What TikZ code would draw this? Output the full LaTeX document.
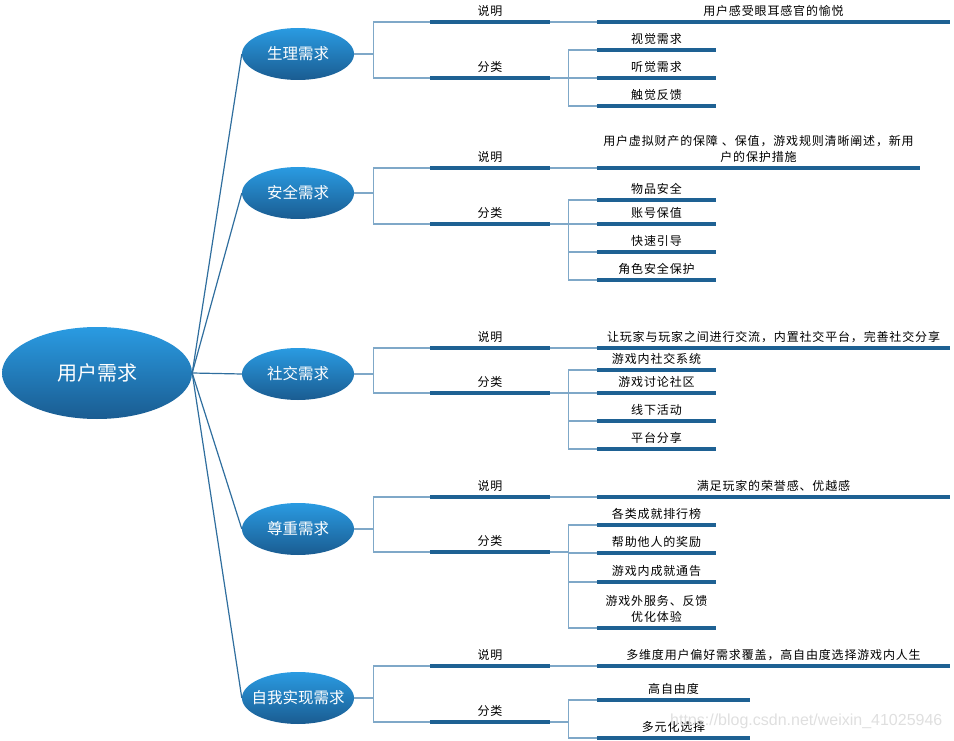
\documentclass[tikz,border=0pt]{standalone}
\usepackage{fontspec}
\usepackage{xcolor}
\usepackage{tikz}
\usetikzlibrary{shapes.geometric}
\newfontfamily\cjk{Noto Sans CJK SC}
\newfontfamily\cjkwide[LetterSpace=7]{Noto Sans CJK SC}
\setsansfont{Liberation Sans}
\definecolor{topblue}{HTML}{2A9BE2}
\definecolor{botblue}{HTML}{1A5C91}
\definecolor{barblue}{HTML}{1E6193}
\definecolor{linkblue}{HTML}{7FA8C8}
\definecolor{spokeblue}{HTML}{2F6E9E}
\def\headx{490}
\def\leafx{656.5}
\def\notex{773.5}

\begin{document}
\begin{tikzpicture}[x=1pt, y=-1pt,
    root/.style={ellipse, inner sep=0, minimum width=190, minimum height=92,
      top color=topblue, bottom color=botblue, draw=none, text=white,
      font=\cjk\fontsize{20}{24}\selectfont},
    need/.style={ellipse, inner sep=0, minimum width=112, minimum height=52,
      top color=topblue, bottom color=botblue, draw=none, text=white,
      font=\cjk\fontsize{15.5}{18}\selectfont},
    bar/.style={draw=barblue, line width=3.5pt},
    lbl/.style={anchor=south, inner xsep=0, inner ysep=5pt, align=center,
      text=black, font=\cjkwide\fontsize{12}{16}\selectfont,
      append after command={(\tikzlastnode.south west) edge[bar] (\tikzlastnode.south east)}},
    headbox/.style={lbl, minimum width=120},
    leafbox/.style={lbl, minimum width=119},
    notebox/.style={lbl, minimum width=353},
    link/.style={draw=linkblue, line width=1.4pt},
    spoke/.style={draw=spokeblue, line width=1.2pt}]
  \useasboundingbox (0,0) rectangle (954,741);

  \node[root] (user) at (97,373) {用户需求};
  \node[need] (n1) at (298,54) {生理需求};
  \node[need] (n2) at (298,193) {安全需求};
  \node[need] (n3) at (298,374) {社交需求};
  \node[need] (n4) at (298,529) {尊重需求};
  \node[need, inner xsep=-7pt] (n5) at (298,698) {自我实现需求};

  % 说明 / 分类
  \node[headbox] (s1) at (\headx,22) {说明};
  \node[headbox] (c1) at (\headx,78) {分类};
  \node[headbox] (s2) at (\headx,168) {说明};
  \node[headbox] (c2) at (\headx,224) {分类};
  \node[headbox] (s3) at (\headx,348) {说明};
  \node[headbox] (c3) at (\headx,393) {分类};
  \node[headbox] (s4) at (\headx,497) {说明};
  \node[headbox] (c4) at (\headx,552) {分类};
  \node[headbox] (s5) at (\headx,666) {说明};
  \node[headbox] (c5) at (\headx,722) {分类};

  \node[notebox] (d1) at (\notex,22) {用户感受眼耳感官的愉悦};
  \node[notebox, minimum width=323, text width=323] (d2) at (758.5,168)
    {用户虚拟财产的保障 、保值，游戏规则清晰阐述，新用\\户的保护措施};
  \node[notebox] (d3) at (\notex,348) {让玩家与玩家之间进行交流，内置社交平台，完善社交分享};
  \node[notebox] (d4) at (\notex,497) {满足玩家的荣誉感、优越感};
  \node[notebox] (d5) at (\notex,666) {多维度用户偏好需求覆盖，高自由度选择游戏内人生};

  \node[leafbox] (l11) at (\leafx,50) {视觉需求};
  \node[leafbox] (l12) at (\leafx,78) {听觉需求};
  \node[leafbox] (l13) at (\leafx,106) {触觉反馈};
  \node[leafbox] (l21) at (\leafx,200) {物品安全};
  \node[leafbox] (l22) at (\leafx,224) {账号保值};
  \node[leafbox] (l23) at (\leafx,252) {快速引导};
  \node[leafbox] (l24) at (\leafx,280) {角色安全保护};
  \node[leafbox] (l31) at (\leafx,370) {游戏内社交系统};
  \node[leafbox] (l32) at (\leafx,393) {游戏讨论社区};
  \node[leafbox] (l33) at (\leafx,421) {线下活动};
  \node[leafbox] (l34) at (\leafx,449) {平台分享};
  \node[leafbox] (l41) at (\leafx,525) {各类成就排行榜};
  \node[leafbox] (l42) at (\leafx,553) {帮助他人的奖励};
  \node[leafbox] (l43) at (\leafx,582) {游戏内成就通告};
  \node[leafbox] (l44) at (\leafx,628) {游戏外服务、反馈\\优化体验};
  \node[leafbox, minimum width=153] (l51) at (673.5,700) {高自由度};
  \node[leafbox, minimum width=153] (l52) at (673.5,738) {多元化选择};

  \node[anchor=west, inner sep=0, text=gray!25, font=\sffamily\fontsize{16}{18}\selectfont]
    (mark) at (670,721) {https://blog.csdn.net/weixin\_41025946};

  \foreach \i in {1,...,5} {
    \draw[spoke] (user.east) -- (n\i.west);
    \draw[link] (n\i.east) -- ++(19,0) coordinate (j\i) |- (s\i.south west);
    \draw[link] (j\i) |- (c\i.south west);
    \draw[link] (s\i.south east) -- (d\i.south west);
    \draw[link] (c\i.south east) -- ++(18,0) coordinate (k\i);
  }
  \foreach \l in {l11,l12,l13} \draw[link] (k1) |- (\l.south west);
  \foreach \l in {l21,l22,l23,l24} \draw[link] (k2) |- (\l.south west);
  \foreach \l in {l31,l32,l33,l34} \draw[link] (k3) |- (\l.south west);
  \foreach \l in {l41,l42,l43,l44} \draw[link] (k4) |- (\l.south west);
  \foreach \l in {l51,l52} \draw[link] (k5) |- (\l.south west);
\end{tikzpicture}
\end{document}
